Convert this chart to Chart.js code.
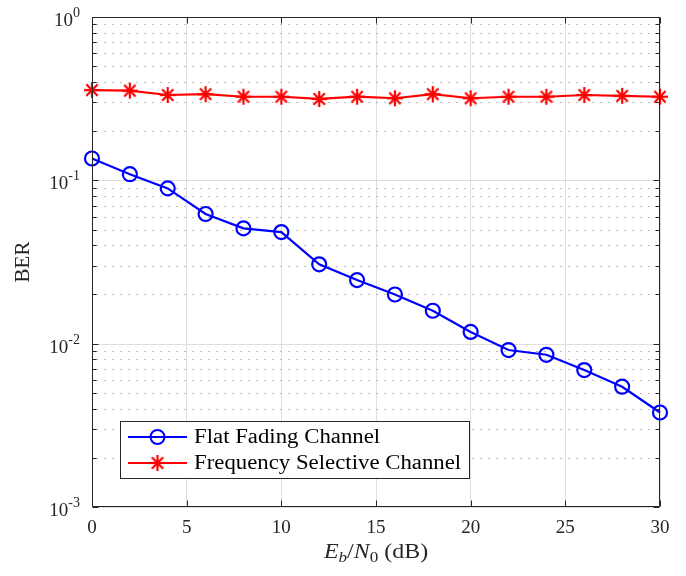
<!DOCTYPE html>
<html><head><meta charset="utf-8">
<script src="https://cdn.jsdelivr.net/npm/chart.js@4/dist/chart.umd.min.js"></script>
<style>html,body{margin:0;padding:0;background:#fff}#wrap{width:686px;height:576px}</style>
</head><body><div id="wrap"><canvas id="c" width="686" height="576"></canvas></div>
<script>
// ---- data ----
const ebn0 = [0, 2, 4, 6, 8, 10, 12, 14, 16, 18, 20, 22, 24, 26, 28, 30];
const berFlat = [0.136, 0.109, 0.0893, 0.0622, 0.0508, 0.0482, 0.0306, 0.0245, 0.0200, 0.0159, 0.0118, 0.00914, 0.00855, 0.00689, 0.00545, 0.00379];
const berFreqSel = [0.357, 0.354, 0.333, 0.337, 0.325, 0.325, 0.315, 0.325, 0.318, 0.337, 0.318, 0.325, 0.325, 0.333, 0.329, 0.325];
const seriesNames = ['Flat Fading Channel', 'Frequency Selective Channel'];
const xTickValues = [0, 5, 10, 15, 20, 25, 30];
const yDecades = [1e-3, 1e-2, 1e-1, 1];
const yLabel = 'BER';

const FONT = "'Liberation Serif', 'Times New Roman', serif";
const AX = '#262626';
const STRETCH = 1.14; // Computer Modern is wider than Times

// asterisk marker image
function makeStar(color) {
  const s = 22, c = document.createElement('canvas');
  c.width = s; c.height = s;
  const g = c.getContext('2d');
  g.strokeStyle = color; g.lineWidth = 2.2; g.lineCap = 'butt';
  const r = 8;
  [0, 45, 90, 135].forEach(a => {
    const t = a * Math.PI / 180;
    g.beginPath();
    g.moveTo(s / 2 - r * Math.cos(t), s / 2 - r * Math.sin(t));
    g.lineTo(s / 2 + r * Math.cos(t), s / 2 + r * Math.sin(t));
    g.stroke();
  });
  return c;
}
const starImg = makeStar('#ff0000');

function stretchedText(ctx, text, x, y, font, align) {
  ctx.save();
  ctx.font = font;
  const w = ctx.measureText(text).width * STRETCH;
  let x0 = x;
  if (align === 'center') x0 = x - w / 2;
  else if (align === 'right') x0 = x - w;
  ctx.translate(x0, y);
  ctx.scale(STRETCH, 1);
  ctx.textAlign = 'left';
  ctx.fillText(text, 0, 0);
  ctx.restore();
  return w;
}

const matlabPlugin = {
  id: 'matlab',
  beforeDatasetsDraw(chart) {
    const ctx = chart.ctx, a = chart.chartArea, ys = chart.scales.y;
    ctx.save();
    for (let e = -3; e <= 0; e++) {
      const base = Math.pow(10, e);
      const py = Math.round(ys.getPixelForValue(base)) + 0.5;
      ctx.setLineDash([]);
      ctx.strokeStyle = '#dedede'; ctx.lineWidth = 1;
      ctx.beginPath(); ctx.moveTo(a.left, py); ctx.lineTo(a.right, py); ctx.stroke();
      if (e < 0) {
        for (let m = 2; m <= 9; m++) {
          const qy = Math.round(ys.getPixelForValue(base * m)) + 0.5;
          ctx.setLineDash([2, 6]);
          ctx.strokeStyle = '#bdbdbd';
          ctx.beginPath(); ctx.moveTo(a.left + 4, qy); ctx.lineTo(a.right, qy); ctx.stroke();
        }
      }
    }
    ctx.restore();
  },
  afterDatasetsDraw(chart) {
    const ctx = chart.ctx, a = chart.chartArea, ys = chart.scales.y, xs = chart.scales.x;
    ctx.save();
    ctx.setLineDash([]);
    ctx.strokeStyle = AX; ctx.lineWidth = 1;
    const L = Math.round(a.left) + 0.5, R = Math.round(a.right) - 0.5, T = Math.round(a.top) + 0.5, B = Math.round(a.bottom) - 0.5;
    ctx.beginPath();
    ctx.moveTo(L, T); ctx.lineTo(R, T); ctx.lineTo(R, B); ctx.lineTo(L, B); ctx.closePath();
    ctx.stroke();
    for (let e = -3; e <= 0; e++) {
      const base = Math.pow(10, e);
      for (let m = 1; m <= (e < 0 ? 9 : 1); m++) {
        const py = Math.round(ys.getPixelForValue(base * m)) + 0.5;
        const len = m === 1 ? 6 : 4;
        ctx.beginPath();
        ctx.moveTo(L, py); ctx.lineTo(L + len, py);
        ctx.moveTo(R, py); ctx.lineTo(R - len, py);
        ctx.stroke();
      }
    }
    xTickValues.forEach(v => {
      const px = Math.round(xs.getPixelForValue(v)) + 0.5;
      ctx.beginPath();
      ctx.moveTo(px, B); ctx.lineTo(px, B - 6);
      ctx.moveTo(px, T); ctx.lineTo(px, T + 6);
      ctx.stroke();
    });
    // y tick labels 10^e
    ctx.fillStyle = AX;
    ctx.textBaseline = 'alphabetic';
    yDecades.forEach(d => {
      const e = Math.round(Math.log10(d));
      const py = ys.getPixelForValue(d);
      const expStr = String(e);
      ctx.font = '14px ' + FONT;
      const we = ctx.measureText(expStr).width;
      ctx.font = '19px ' + FONT;
      const wb = ctx.measureText('10').width;
      const right = a.left - 12;
      ctx.textAlign = 'left';
      ctx.fillText('10', right - we - wb, py + 9);
      ctx.font = '14px ' + FONT;
      ctx.fillText(expStr, right - we, py + 0);
    });
    // x axis title  E_b/N_0 (dB)
    const parts = [
      {t: 'E', f: 'italic 21px ' + FONT, dy: 0},
      {t: 'b', f: 'italic 15px ' + FONT, dy: 4},
      {t: '/', f: '21px ' + FONT, dy: 0},
      {t: 'N', f: 'italic 21px ' + FONT, dy: 0},
      {t: '0', f: '15px ' + FONT, dy: 4},
      {t: ' (dB)', f: '21px ' + FONT, dy: 0}
    ];
    let tw = 0;
    parts.forEach(p => { ctx.font = p.f; p.w = ctx.measureText(p.t).width * STRETCH; tw += p.w; });
    let cx = (a.left + a.right) / 2 - tw / 2;
    const by = 558;
    parts.forEach(p => { stretchedText(ctx, p.t, cx, by + p.dy, p.f, 'left'); cx += p.w; });
    // legend
    const lx = 120.5, ly = 421.5, lw = 349, lh = 57;
    ctx.fillStyle = '#ffffff';
    ctx.fillRect(lx, ly, lw, lh);
    ctx.strokeStyle = AX; ctx.lineWidth = 1;
    ctx.strokeRect(lx, ly, lw, lh);
    chart.data.datasets.forEach((ds, i) => {
      const rowY = 437 + i * 26;
      ctx.strokeStyle = ds.borderColor; ctx.lineWidth = 2;
      ctx.beginPath(); ctx.moveTo(128, rowY); ctx.lineTo(187, rowY); ctx.stroke();
      if (i === 0) {
        ctx.beginPath(); ctx.arc(157.5, rowY, 7, 0, Math.PI * 2); ctx.stroke();
      } else {
        ctx.drawImage(starImg, 157.5 - 11, rowY - 11);
      }
      ctx.fillStyle = '#000';
      ctx.textBaseline = 'middle';
      stretchedText(ctx, ds.label, 194, rowY + 1, '20px ' + FONT, 'left');
    });
    ctx.restore();
  }
};

new Chart(document.getElementById('c'), {
  type: 'line',
  data: {
    datasets: [
      {
        label: seriesNames[0],
        data: ebn0.map((v, i) => ({x: v, y: berFlat[i]})),
        borderColor: '#0000ff', backgroundColor: 'rgba(0,0,0,0)',
        borderWidth: 2.2, pointStyle: 'circle', pointRadius: 7,
        pointBorderWidth: 2.2, pointBorderColor: '#0000ff', pointBackgroundColor: 'rgba(0,0,0,0)',
        tension: 0, clip: false
      },
      {
        label: seriesNames[1],
        data: ebn0.map((v, i) => ({x: v, y: berFreqSel[i]})),
        borderColor: '#ff0000', backgroundColor: 'rgba(0,0,0,0)',
        borderWidth: 2.2, pointStyle: starImg, pointRadius: 8,
        tension: 0, clip: false
      }
    ]
  },
  options: {
    responsive: false, animation: false,
    layout: {padding: {left: 7, top: 17, right: 26, bottom: 0}},
    plugins: {legend: {display: false}, tooltip: {enabled: false}},
    scales: {
      x: {
        type: 'linear', min: 0, max: 30,
        afterBuildTicks: s => { s.ticks = xTickValues.map(v => ({value: v})); },
        afterFit: s => { s.height = 69; },
        grid: {color: '#dedede', lineWidth: 1, drawTicks: false},
        border: {display: false},
        ticks: {font: {family: FONT, size: 19}, color: AX, padding: 10, maxRotation: 0}
      },
      y: {
        type: 'logarithmic', min: 0.001, max: 1,
        afterBuildTicks: s => { s.ticks = yDecades.map(v => ({value: v})); },
        afterFit: s => { s.width = 85; },
        grid: {display: false},
        border: {display: false},
        ticks: {display: false},
        title: {display: true, text: yLabel, font: {family: FONT, size: 21}, color: AX, padding: {top: 4, bottom: 0}}
      }
    }
  },
  plugins: [matlabPlugin]
});
</script>
</body></html>
